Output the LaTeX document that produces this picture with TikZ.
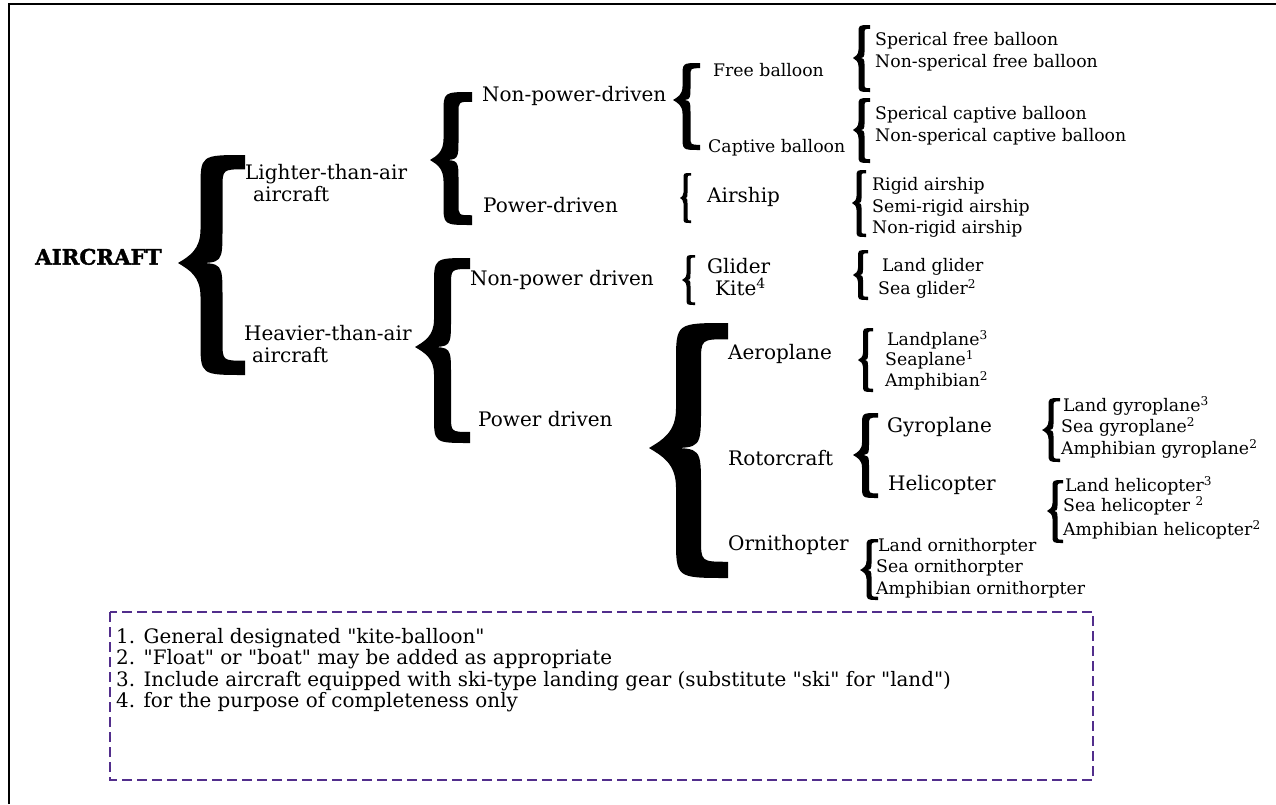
\documentclass[tikz,border=0pt]{standalone}
\usepackage{fontspec}
\setmainfont{DejaVu Serif}
\newfontfamily\heavyfont{DejaVu Serif Bold}[FakeBold=1.6]
\newfontfamily\notefont{DejaVu Serif}[Ligatures=TeXOff]
\definecolor{notepurple}{RGB}{82,46,140}
\newcommand\brc[6]{%
 \pgfmathsetmacro\bXc{(#1+#2)/2}%
 \pgfmathsetmacro\bH{#6/2}%
 \pgfmathsetmacro\bA{min((#2-#1)/2,(#4-#3)/2.2,(#5-#4)/2.2)}%
 \pgfmathsetmacro\bE{0.65*#6}%
 \pgfmathsetmacro\bT{0.7*#6}%
 \pgfmathsetmacro\bL{\bXc-\bH}%
 \pgfmathsetmacro\bR{\bXc+\bH}%
 \pgfmathsetmacro\bK{0.5*(\bL-#1)}%
 \pgfmathsetmacro\bKy{0.6*\bK}%
 \fill (#2,#3) .. controls (\bL,#3) .. (\bL,#3+\bA)
   -- (\bL,#4-\bA) .. controls (\bL,#4-0.4*\bA) and (#1+\bK,#4-\bKy) .. (#1,#4)
   .. controls (#1+\bK,#4+\bKy) and (\bL,#4+0.4*\bA) .. (\bL,#4+\bA)
   -- (\bL,#5-\bA) .. controls (\bL,#5) .. (#2,#5)
   -- (#2,#5-\bE) .. controls (\bR,#5-\bE) .. (\bR,#5-\bA)
   -- (\bR,#4+\bA) .. controls (\bR,#4) .. (#1+\bT,#4)
   .. controls (\bR,#4) .. (\bR,#4-\bA)
   -- (\bR,#3+\bA) .. controls (\bR,#3+\bE) .. (#2,#3+\bE) -- cycle;
}
\tikzset{
 lab/.style={anchor=mid west, inner sep=0pt, font=\fontsize{20}{24}\selectfont},
 leaf/.style={anchor=mid west, inner sep=0pt, font=\fontsize{17.3}{20}\selectfont},
 note/.style={anchor=mid west, inner sep=0pt, font=\notefont\fontsize{19.9}{22}\selectfont},
 root/.style={anchor=mid west, inner sep=0pt, font=\heavyfont\fontsize{21.3}{24}\selectfont},
 notebox/.style={draw=notepurple, line width=2pt, dash pattern=on 10pt off 5pt},
 frame/.style={line width=2.5pt},
}
\begin{document}
\begin{tikzpicture}[x=1pt,y=-1pt]
\useasboundingbox (0,0) rectangle (1276,804);
% frame
\draw[frame] (9,804) -- (9,4) -- (1276,4);
% root
\node[root] (root) at (35,262) {AIRCRAFT};
% level 1
\node[lab] (lta1) at (245,177) {Lighter-than-air};
\node[lab] (lta2) at (253,199) {aircraft};
\node[lab] (hta1) at (244,338) {Heavier-than-air};
\node[lab] (hta2) at (252,360) {aircraft};
% level 2
\node[lab] (npd) at (482,99) {Non-power-driven};
\node[lab] (pd) at (483,210) {Power-driven};
\node[lab] (npd2) at (470,283) {Non-power driven};
\node[lab] (pd2) at (478,424) {Power driven};
% level 3
\node[leaf] (free) at (713,74) {Free balloon};
\node[leaf] (captive) at (708,150) {Captive balloon};
\node[lab] (airship) at (707,200) {Airship};
\node[lab] (glider) at (707,271) {Glider};
\node[lab] (kite) at (715,293) {Kite\textsuperscript{4}};
\node[lab] (aero) at (728,357) {Aeroplane};
\node[lab] (rotor) at (728,463) {Rotorcraft};
\node[lab] (orni) at (728,548) {Ornithopter};
\node[lab] (gyro) at (887,430) {Gyroplane};
\node[lab] (heli) at (888,488) {Helicopter};
% leaves
\node[leaf] (sph1) at (875,43) {Sperical free balloon};
\node[leaf] (sph2) at (875,65) {Non-sperical free balloon};
\node[leaf] (sph3) at (875,117) {Sperical captive balloon};
\node[leaf] (sph4) at (875,139) {Non-sperical captive balloon};
\node[leaf] (rig1) at (872,188) {Rigid airship};
\node[leaf] (rig2) at (872,210) {Semi-rigid airship};
\node[leaf] (rig3) at (872,231) {Non-rigid airship};
\node[leaf] (lg1) at (882,269) {Land glider};
\node[leaf] (lg2) at (878,292) {Sea glider\textsuperscript{2}};
\node[leaf] (lp1) at (887,343) {Landplane\textsuperscript{3}};
\node[leaf] (lp2) at (885,363) {Seaplane\textsuperscript{1}};
\node[leaf] (lp3) at (885,384) {Amphibian\textsuperscript{2}};
\node[leaf] (gy1) at (1063,409) {Land gyroplane\textsuperscript{3}};
\node[leaf] (gy2) at (1061,430) {Sea gyroplane\textsuperscript{2}};
\node[leaf] (gy3) at (1061,452) {Amphibian gyroplane\textsuperscript{2}};
\node[leaf] (he1) at (1065,489) {Land helicopter\textsuperscript{3}};
\node[leaf] (he2) at (1063,509) {Sea helicopter \textsuperscript{2}};
\node[leaf] (he3) at (1063,533) {Amphibian helicopter\textsuperscript{2}};
\node[leaf] (or1) at (878,549) {Land ornithorpter};
\node[leaf] (or2) at (876,570) {Sea ornithorpter};
\node[leaf] (or3) at (876,592) {Amphibian ornithorpter};
% braces
\brc{178}{245}{155}{263}{375}{22}
\brc{430}{472}{92}{160}{225}{15}
\brc{415}{470}{258}{347}{443}{17}
\brc{673}{700}{63}{100}{150}{8}
\brc{680}{691}{173}{198}{223}{4}
\brc{853}{870}{25}{58}{92}{6}
\brc{853}{870}{98}{130}{163}{6}
\brc{852}{866}{170}{203}{237}{5}
\brc{682}{695}{255}{280}{305}{4}
\brc{649}{728}{323}{448}{578}{25}
\brc{853}{868}{250}{275}{300}{5}
\brc{858}{873}{328}{360}{392}{5}
\brc{853}{878}{413}{455}{498}{7}
\brc{1042}{1060}{398}{430}{462}{5}
\brc{1047}{1063}{480}{511}{543}{5}
\brc{860}{878}{539}{570}{600}{5}
% notes
\draw[notebox] (110,612) rectangle (1093,780);
\node[note] (n1) at (116,641) {1. General designated "kite-balloon"};
\node[note] (n2) at (116,662) {2. "Float" or "boat" may be added as appropriate};
\node[note] (n3) at (116,684) {3. Include aircraft equipped with ski-type landing gear (substitute "ski" for "land")};
\node[note] (n4) at (116,705) {4. for the purpose of completeness only};
\end{tikzpicture}
\end{document}
